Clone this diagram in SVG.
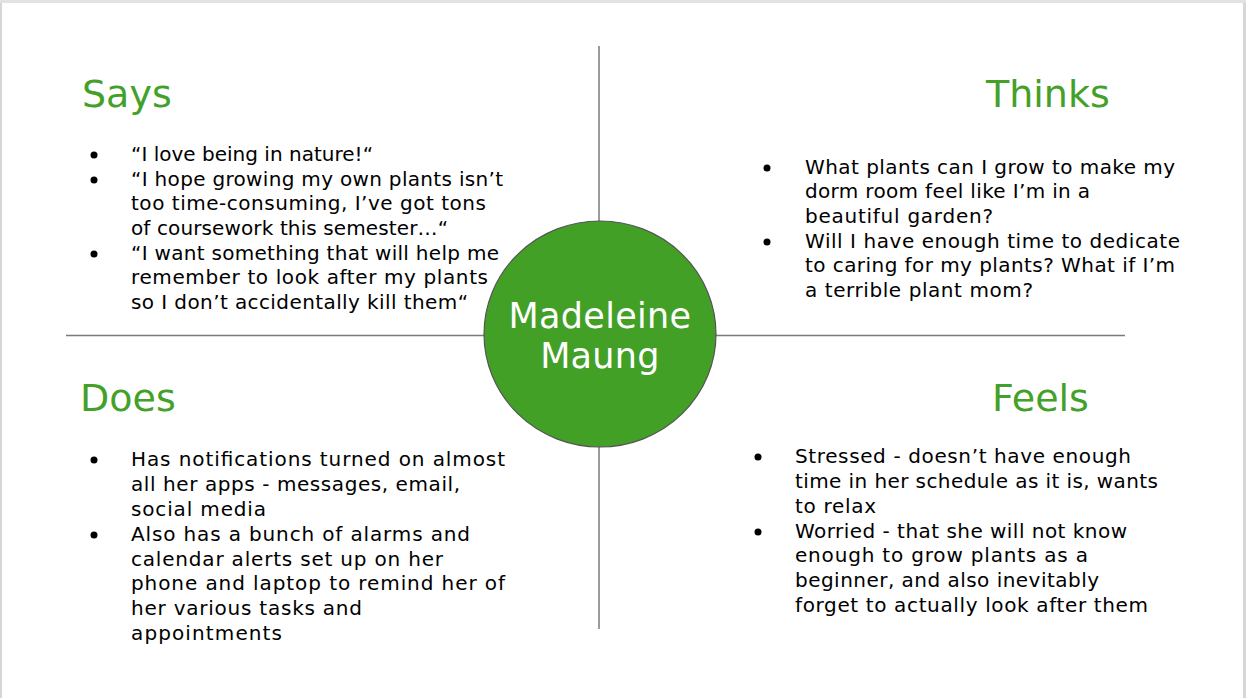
<svg xmlns="http://www.w3.org/2000/svg" width="1246" height="698" viewBox="0 0 1246 698">
  <style>
    .heading { font-family: "DejaVu Sans", "Noto Sans", sans-serif; font-size: 38px; fill: #43a12a; }
    .body { font-family: "DejaVu Sans", "Noto Sans", sans-serif; font-size: 20px; fill: #000000; }
    .name { font-family: "DejaVu Sans", "Noto Sans", sans-serif; font-size: 35px; letter-spacing: 0.3px; fill: #ffffff; text-anchor: middle; }
    .axis { stroke: #7a7a7a; stroke-width: 1.5; fill: none; }
    .dot { fill: #000000; }
  </style>

  <!-- slide frame: grey surround with a white page -->
  <rect x="0" y="0" width="1246" height="698" fill="#d6d6d6"/>
  <rect x="0" y="0" width="1246" height="3" fill="#e2e2e2"/>
  <rect x="2" y="3" width="1241" height="700" fill="#ffffff"/>

  <!-- quadrant axes -->
  <g id="connectors">
    <line class="axis" x1="599" y1="46" x2="599" y2="629"/>
    <line class="axis" x1="66" y1="335.5" x2="1125" y2="335.5"/>
  </g>

  <!-- central persona -->
  <g id="persona">
    <ellipse cx="600" cy="334" rx="116" ry="113" fill="#43a026" stroke="#555555" stroke-width="1.2"/>
    <text class="name" x="600" y="328">Madeleine</text>
    <text class="name" x="600" y="368">Maung</text>
  </g>

  <!-- Says quadrant -->
  <g id="says">
    <text class="heading" x="82" y="107">Says</text>
    <circle class="dot" cx="94" cy="155" r="3.5"/>
    <circle class="dot" cx="94" cy="180" r="3.5"/>
    <circle class="dot" cx="94" cy="254" r="3.5"/>
    <text class="body" x="131" y="161" textLength="242">“I love being in nature!“</text>
    <text class="body" x="131" y="186" textLength="372">“I hope growing my own plants isn’t</text>
    <text class="body" x="131" y="210" textLength="355">too time-consuming, I’ve got tons</text>
    <text class="body" x="131" y="235" textLength="317">of coursework this semester…“</text>
    <text class="body" x="131" y="260" textLength="368">“I want something that will help me</text>
    <text class="body" x="131" y="284" textLength="357">remember to look after my plants</text>
    <text class="body" x="131" y="309" textLength="337">so I don’t accidentally kill them“</text>
  </g>

  <!-- Thinks quadrant -->
  <g id="thinks">
    <text class="heading" x="986" y="107">Thinks</text>
    <circle class="dot" cx="767" cy="168" r="3.5"/>
    <circle class="dot" cx="767" cy="242" r="3.5"/>
    <text class="body" x="805" y="174" textLength="370">What plants can I grow to make my</text>
    <text class="body" x="805" y="198" textLength="285">dorm room feel like I’m in a</text>
    <text class="body" x="805" y="223" textLength="188">beautiful garden?</text>
    <text class="body" x="805" y="248" textLength="375">Will I have enough time to dedicate</text>
    <text class="body" x="805" y="272" textLength="370">to caring for my plants? What if I’m</text>
    <text class="body" x="805" y="297" textLength="228">a terrible plant mom?</text>
  </g>

  <!-- Does quadrant -->
  <g id="does">
    <text class="heading" x="80" y="411">Does</text>
    <circle class="dot" cx="94" cy="460" r="3.5"/>
    <circle class="dot" cx="94" cy="535" r="3.5"/>
    <text class="body" x="131" y="466" textLength="374">Has notifications turned on almost</text>
    <text class="body" x="131" y="491" textLength="329">all her apps - messages, email,</text>
    <text class="body" x="131" y="516" textLength="135">social media</text>
    <text class="body" x="131" y="541" textLength="339">Also has a bunch of alarms and</text>
    <text class="body" x="131" y="566" textLength="312">calendar alerts set up on her</text>
    <text class="body" x="131" y="590" textLength="374">phone and laptop to remind her of</text>
    <text class="body" x="131" y="615" textLength="231">her various tasks and</text>
    <text class="body" x="131" y="640" textLength="151">appointments</text>
  </g>

  <!-- Feels quadrant -->
  <g id="feels">
    <text class="heading" x="992" y="411">Feels</text>
    <circle class="dot" cx="758" cy="457" r="3.5"/>
    <circle class="dot" cx="758" cy="532" r="3.5"/>
    <text class="body" x="795" y="463" textLength="336">Stressed - doesn’t have enough</text>
    <text class="body" x="795" y="488" textLength="363">time in her schedule as it is, wants</text>
    <text class="body" x="795" y="513" textLength="81">to relax</text>
    <text class="body" x="795" y="538" textLength="332">Worried - that she will not know</text>
    <text class="body" x="795" y="562" textLength="293">enough to grow plants as a</text>
    <text class="body" x="795" y="587" textLength="304">beginner, and also inevitably</text>
    <text class="body" x="795" y="612" textLength="353">forget to actually look after them</text>
  </g>
</svg>
